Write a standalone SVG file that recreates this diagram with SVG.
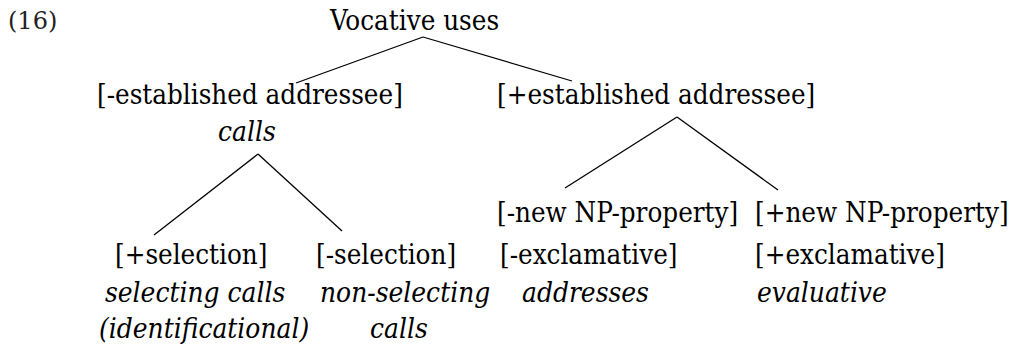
<svg xmlns="http://www.w3.org/2000/svg" width="1030" height="348" viewBox="0 0 1030 348">
  <style>
    .lbl { font-family: "DejaVu Serif Condensed", "DejaVu Serif", serif; font-size: 27.5px; fill: #000; }
    .it { font-style: italic; font-size: 27.8px; }
    .num { font-family: "DejaVu Serif", serif; font-size: 24px; fill: #222; }
    .edge { stroke: #000; stroke-width: 1.3; fill: none; }
  </style>
  <rect width="1030" height="348" fill="#fff"/>

  <text class="num" x="8" y="29">(16)</text>

  <!-- tree edges -->
  <g id="connectors">
    <line class="edge" x1="423" y1="37" x2="296" y2="83"/>
    <line class="edge" x1="423" y1="37" x2="572" y2="81"/>
    <line class="edge" x1="258" y1="154" x2="154" y2="235"/>
    <line class="edge" x1="258" y1="154" x2="342" y2="231"/>
    <line class="edge" x1="677" y1="117" x2="565" y2="188"/>
    <line class="edge" x1="677" y1="117" x2="778" y2="190"/>
  </g>

  <g id="root">
    <text class="lbl" x="330" y="30">Vocative uses</text>
  </g>
  <g id="minus-established">
    <text class="lbl" x="97" y="104">[-established addressee]</text>
    <text class="lbl it" x="218" y="141">calls</text>
  </g>
  <g id="plus-established">
    <text class="lbl" x="497" y="104">[+established addressee]</text>
  </g>
  <g id="plus-selection">
    <text class="lbl" x="115" y="264">[+selection]</text>
    <text class="lbl it" x="105" y="302">selecting calls</text>
    <text class="lbl it" x="99" y="338">(identificational)</text>
  </g>
  <g id="minus-selection">
    <text class="lbl" x="316" y="264">[-selection]</text>
    <text class="lbl it" x="320" y="302">non-selecting</text>
    <text class="lbl it" x="370" y="338">calls</text>
  </g>
  <g id="minus-new-np">
    <text class="lbl" x="497" y="222">[-new NP-property]</text>
    <text class="lbl" x="500" y="264">[-exclamative]</text>
    <text class="lbl it" x="522" y="302">addresses</text>
  </g>
  <g id="plus-new-np">
    <text class="lbl" x="755" y="222">[+new NP-property]</text>
    <text class="lbl" x="755" y="264">[+exclamative]</text>
    <text class="lbl it" x="757" y="302">evaluative</text>
  </g>
</svg>
